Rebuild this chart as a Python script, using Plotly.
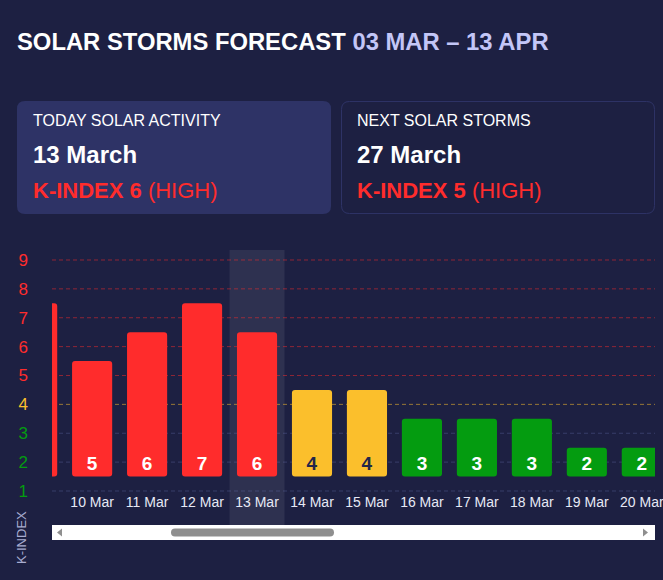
import plotly.graph_objects as go

# visible window of the forecast (chart is scrolled to around today)
dates = ["9 Mar", "10 Mar", "11 Mar", "12 Mar", "13 Mar", "14 Mar",
         "15 Mar", "16 Mar", "17 Mar", "18 Mar", "19 Mar", "20 Mar"]
k_index = [7, 5, 6, 7, 6, 4, 4, 3, 3, 3, 2, 2]
today = "13 Mar"

k_levels = [1, 2, 3, 4, 5, 6, 7, 8, 9]

period_start = "03 MAR"
period_end = "13 APR"
today_label = "13 March"
today_k = 6
next_storm_label = "27 March"
next_storm_k = 5
level_name = "HIGH"

BG = "#1d2042"
CARD = "#2e3366"
RED = "#ff2c2c"
YELLOW = "#fbbf2c"
GREEN = "#049c10"
FONT = "Liberation Sans, Arial, sans-serif"

W, H = 663, 580
L, R, T, B = 52, 8, 250, 88
PW, PH = W - L - R, H - T - B


def level_color(k):
    if k >= 5:
        return RED
    if k == 4:
        return YELLOW
    return GREEN


grid_colors = {RED: "rgba(255,44,44,0.5)",
               YELLOW: "rgba(251,191,44,0.55)",
               GREEN: "rgba(120,130,200,0.3)"}


# pixel -> paper helpers for the decorations outside the plot area
def px(x):
    return (x - L) / PW


def py(y):
    return (H - B - y) / PH


def rounded_rect(x0, y0, x1, y1, r):
    pts = [
        ("M", [(x0 + r, y0)]),
        ("L", [(x1 - r, y0)]),
        ("Q", [(x1, y0), (x1, y0 + r)]),
        ("L", [(x1, y1 - r)]),
        ("Q", [(x1, y1), (x1 - r, y1)]),
        ("L", [(x0 + r, y1)]),
        ("Q", [(x0, y1), (x0, y1 - r)]),
        ("L", [(x0, y0 + r)]),
        ("Q", [(x0, y0), (x0 + r, y0)]),
    ]
    s = ""
    for cmd, ps in pts:
        s += cmd + " ".join(f"{px(a):.5f},{py(b):.5f}" for a, b in ps) + " "
    return s + "Z"


def poly(points):
    return "M" + " L".join(f"{px(a):.5f},{py(b):.5f}" for a, b in points) + " Z"


colors = [level_color(k) for k in k_index]
text_colors = ["#23264a" if c == YELLOW else "white" for c in colors]

fig = go.Figure(go.Bar(
    x=dates,
    y=[k - 1 for k in k_index],
    base=[1.5] * len(dates),
    marker=dict(color=colors, cornerradius=3, line_width=0),
    text=[str(k) for k in k_index],
    textposition="inside",
    insidetextanchor="start",
    textfont=dict(size=19, color=text_colors, family=FONT, weight="bold"),
    hoverinfo="skip",
))

shapes = []
idx = dates.index(today)
shapes.append(dict(type="rect", xref="x", yref="paper", x0=idx - 0.5, x1=idx + 0.5,
                   y0=py(525), y1=1, fillcolor="rgba(255,255,255,0.08)",
                   line_width=0, layer="below"))
for k in k_levels:
    shapes.append(dict(type="line", xref="paper", x0=0, x1=1, yref="y", y0=k, y1=k,
                       line=dict(color=grid_colors[level_color(k)], width=1, dash="4px,3px"),
                       layer="below"))

# info cards
shapes.append(dict(type="path", xref="paper", yref="paper",
                   path=rounded_rect(17, 101, 331, 214, 8), fillcolor=CARD, line_width=0))
shapes.append(dict(type="path", xref="paper", yref="paper",
                   path=rounded_rect(341.5, 101.5, 654.5, 213.5, 8),
                   fillcolor="rgba(0,0,0,0)", line=dict(color=CARD, width=1)))

# scrollbar
shapes.append(dict(type="rect", xref="paper", yref="paper", x0=px(52), x1=px(655),
                   y0=py(540), y1=py(525), fillcolor="white", line_width=0))
shapes.append(dict(type="path", xref="paper", yref="paper",
                   path=rounded_rect(171, 528.5, 334, 536.5, 4), fillcolor="#8f8f8f", line_width=0))
shapes.append(dict(type="path", xref="paper", yref="paper",
                   path=poly([(57, 532.5), (62, 528.5), (62, 536.5)]), fillcolor="#8f8f8f", line_width=0))
shapes.append(dict(type="path", xref="paper", yref="paper",
                   path=poly([(648, 532.5), (643, 528.5), (643, 536.5)]), fillcolor="#8f8f8f", line_width=0))

annotations = [
    dict(text=f"<b>SOLAR STORMS FORECAST <span style='color:#c3c6f7'>{period_start} – {period_end}</span></b>",
         x=px(15), y=py(41), font=dict(size=23.8, color="white")),
    dict(text="TODAY SOLAR ACTIVITY", x=px(31), y=py(120), font=dict(size=16, color="white")),
    dict(text=f"<b>{today_label}</b>", x=px(31), y=py(154), font=dict(size=24, color="white")),
    dict(text=f"<b>K-INDEX {today_k}</b> ({level_name})", x=px(31), y=py(190),
         font=dict(size=22, color=RED)),
    dict(text="NEXT SOLAR STORMS", x=px(355), y=py(120), font=dict(size=16, color="white")),
    dict(text=f"<b>{next_storm_label}</b>", x=px(355), y=py(154), font=dict(size=24, color="white")),
    dict(text=f"<b>K-INDEX {next_storm_k}</b> ({level_name})", x=px(355), y=py(190),
         font=dict(size=22, color=RED)),
]
for a in annotations:
    a.update(xref="paper", yref="paper", xanchor="left", yanchor="middle", showarrow=False)
annotations.append(dict(text="K-INDEX", xref="paper", yref="paper", x=px(21), y=py(538),
                        textangle=-90, showarrow=False, xanchor="center", yanchor="middle",
                        font=dict(size=13, color="#a8acd0")))

fig.update_layout(
    width=W, height=H,
    margin=dict(l=L, r=R, t=T, b=B),
    paper_bgcolor=BG, plot_bgcolor=BG,
    font=dict(family=FONT, color="white"),
    showlegend=False,
    bargap=0.27,
    shapes=shapes,
    annotations=annotations,
    xaxis=dict(range=[0.27, 11.24], showgrid=False, zeroline=False, showline=False,
               tickfont=dict(size=14, color="#e6e9f5"), fixedrange=True, automargin=False),
    yaxis=dict(range=[0.965, 9.346], showgrid=False, zeroline=False, showline=False,
               tickvals=k_levels,
               ticktext=[f"<span style='color:{level_color(k)}'>{k}</span>" for k in k_levels],
               tickfont=dict(size=17), ticklabelstandoff=23, fixedrange=True, automargin=False),
)

fig.write_html("out.html", config={"displayModeBar": False},
               post_script="document.body.style.margin='0';")
